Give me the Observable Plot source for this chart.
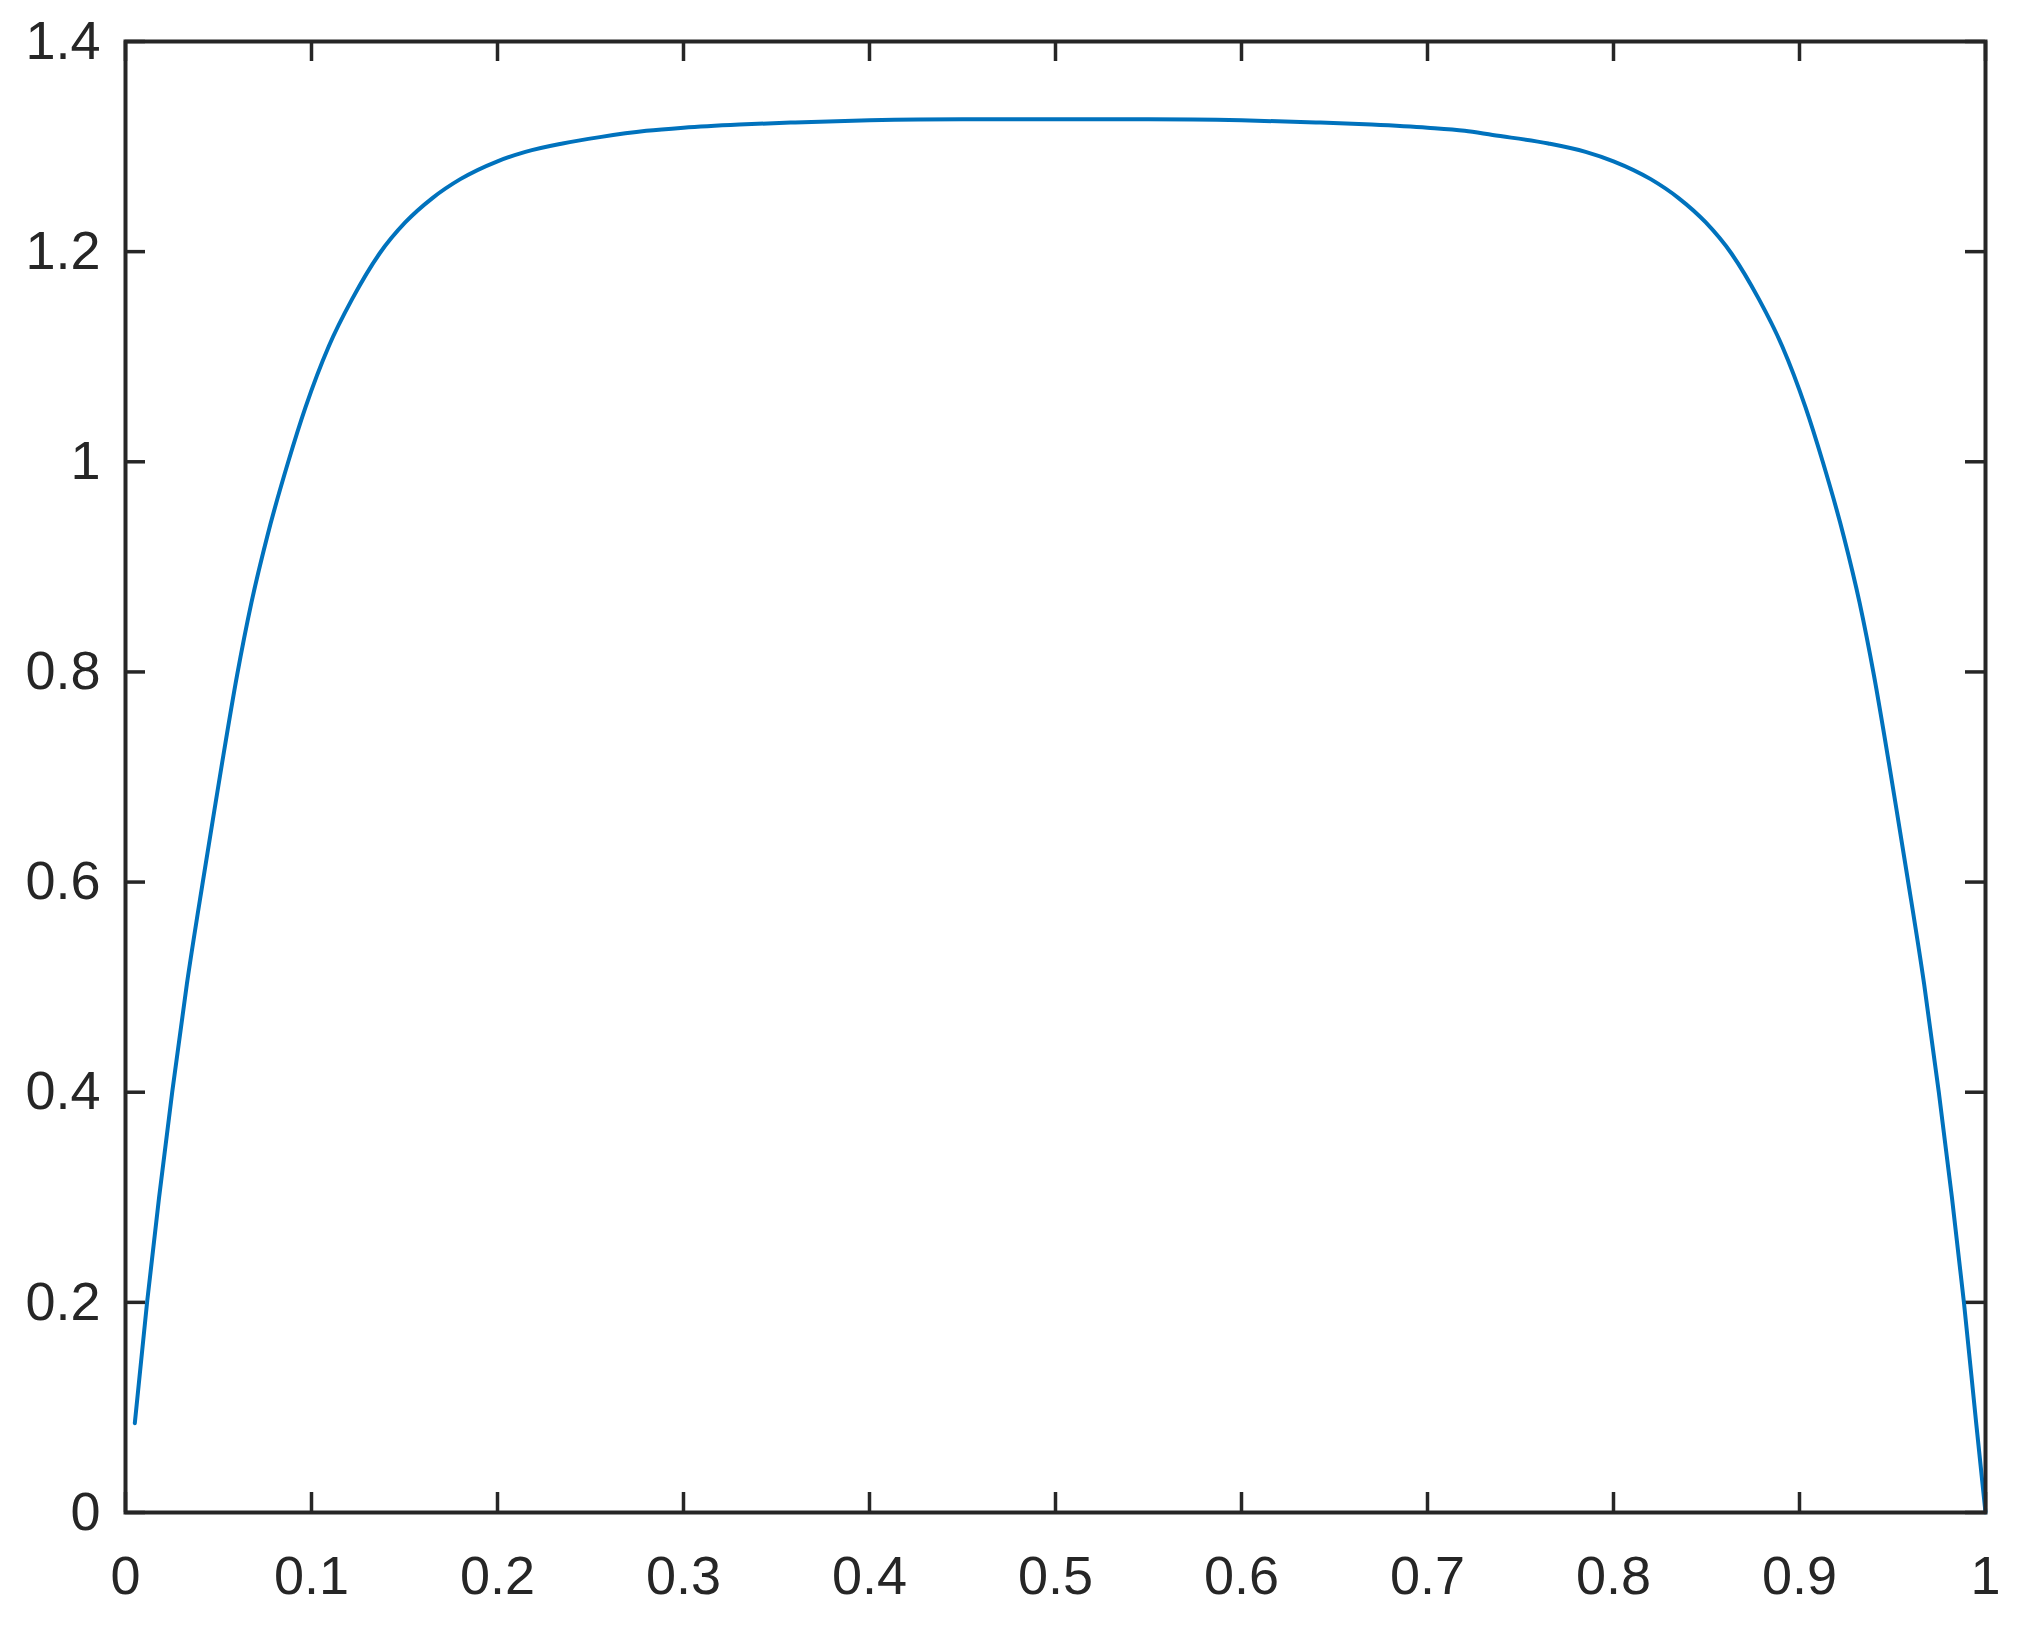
<!DOCTYPE html>
<html>
<head>
<meta charset="utf-8">
<script src="https://cdn.jsdelivr.net/npm/d3@7"></script>
<script src="https://cdn.jsdelivr.net/npm/@observablehq/plot@0.6"></script>
<style>
  html, body { margin: 0; padding: 0; background: #ffffff; }
  #chart svg { display: block; }
</style>
</head>
<body>
<div id="chart"></div>
<script>
// Values
const xValues = [0.005, 0.0116, 0.018, 0.0251, 0.033, 0.042, 0.0484, 0.052, 0.060, 0.0677, 0.0762,
  0.0875, 0.0968, 0.1093, 0.1219, 0.1365, 0.1505, 0.165, 0.180, 0.200, 0.215, 0.235, 0.255,
  0.280, 0.300, 0.330, 0.360, 0.400, 0.450, 0.500, 0.550, 0.600, 0.640, 0.670, 0.700,
  0.720, 0.735, 0.765, 0.785, 0.800, 0.820, 0.835, 0.8495, 0.8635, 0.8781, 0.8907, 0.9032,
  0.9125, 0.9238, 0.9323, 0.940, 0.948, 0.9516, 0.958, 0.967, 0.9749, 0.982, 0.9884, 0.995, 1.000];
const yValues = [0.085, 0.200, 0.299, 0.400, 0.503, 0.605, 0.675, 0.714, 0.797, 0.866, 0.929,
  1.000, 1.052, 1.110, 1.155, 1.198, 1.228, 1.251, 1.269, 1.286, 1.295, 1.303, 1.309,
  1.315, 1.318, 1.321, 1.323, 1.325, 1.326, 1.326, 1.326, 1.325, 1.323, 1.321, 1.318,
  1.315, 1.311, 1.303, 1.295, 1.286, 1.269, 1.251, 1.228, 1.198, 1.155, 1.110, 1.052,
  1.000, 0.929, 0.866, 0.797, 0.714, 0.675, 0.605, 0.503, 0.400, 0.299, 0.200, 0.085, 0.000];
const xTicks = [0, 0.1, 0.2, 0.3, 0.4, 0.5, 0.6, 0.7, 0.8, 0.9, 1];
const yTicks = [0, 0.2, 0.4, 0.6, 0.8, 1, 1.2, 1.4];

const series = xValues.map((x, i) => ({x, y: yValues[i]}));

const W = 2018, H = 1627;
const mL = 125, mR = 33, mT = 41, mB = 115;
const innerW = W - mL - mR, innerH = H - mT - mB;
const tickLen = 20;
const ink = "#262626";
const fontSize = 54;

const chart = Plot.plot({
  width: W,
  height: H,
  marginLeft: mL,
  marginRight: mR,
  marginTop: mT,
  marginBottom: mB,
  style: {fontFamily: "'Liberation Sans', Arial, Helvetica, sans-serif", fontSize: fontSize + "px", color: ink, background: "#ffffff"},
  x: {domain: [0, 1]},
  y: {domain: [0, 1.4]},
  marks: [
    Plot.axisX(xTicks, {anchor: "bottom", tickSize: 0, tickPadding: 43, fontSize, fill: ink, label: null,
      tickFormat: d => String(+d.toFixed(1))}),
    Plot.axisY(yTicks, {anchor: "left", tickSize: 0, tickPadding: 25, fontSize, fill: ink, label: null,
      tickFormat: d => String(+d.toFixed(1))}),
    // inward ticks on all four sides
    Plot.tickY(yTicks, {y: d => d, insetRight: innerW - tickLen, stroke: ink, strokeWidth: 3.5}),
    Plot.tickY(yTicks, {y: d => d, insetLeft: innerW - tickLen, stroke: ink, strokeWidth: 3.5}),
    Plot.tickX(xTicks, {x: d => d, insetTop: innerH - tickLen, stroke: ink, strokeWidth: 3.5}),
    Plot.tickX(xTicks, {x: d => d, insetBottom: innerH - tickLen, stroke: ink, strokeWidth: 3.5}),
    Plot.line(series, {x: "x", y: "y", stroke: "#0072BD", strokeWidth: 4, curve: "monotone-x"}),
    Plot.frame({stroke: ink, strokeWidth: 4})
  ]
});
document.getElementById("chart").appendChild(chart);
</script>
</body>
</html>
